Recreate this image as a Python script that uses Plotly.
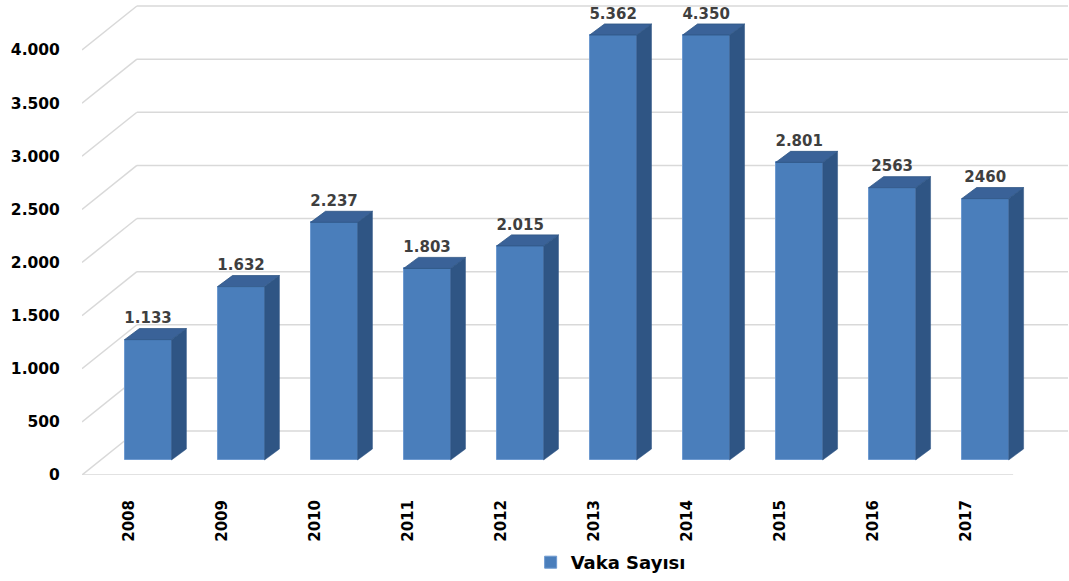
import plotly.graph_objects as go

years = ["2008", "2009", "2010", "2011", "2012", "2013", "2014", "2015", "2016", "2017"]
vaka = [1133, 1632, 2237, 1803, 2015, 5362, 4350, 2801, 2563, 2460]
labels = ["1.133", "1.632", "2.237", "1.803", "2.015", "5.362", "4.350", "2.801", "2563", "2460"]
y_ticks = [0, 500, 1000, 1500, 2000, 2500, 3000, 3500, 4000]
y_ticktext = ["0", "500", "1.000", "1.500", "2.000", "2.500", "3.000", "3.500", "4.000"]

AXIS_MAX = 4000
BASE = 141        # bar base depth offset (value units)
BW = 0.505        # bar width (category units)
DX, DY = 0.16, 104   # bar depth extrusion
WALL_DX, WALL_DY = 0.59, 414  # back wall offset
X0, X1 = -0.71, 9.89

FRONT = "#4A7EBB"
SIDE = "#2F5584"
TOP = "#3A6298"

xs = list(range(len(years)))
shown = [min(v, AXIS_MAX) for v in vaka]

fig = go.Figure()

# front faces
fig.add_trace(go.Bar(x=xs, y=shown, base=[BASE] * len(xs), width=BW,
                     marker=dict(color=FRONT, line=dict(color="#6E9AD0", width=1)),
                     name="Vaka Sayısı", hoverinfo="skip"))

# side and top faces
sx, sy = [], []
tx, ty = [], []
for i, h in zip(xs, shown):
    r = i + BW / 2
    l = i - BW / 2
    top = BASE + h
    sx += [r, r + DX, r + DX, r, r, None]
    sy += [BASE, BASE + DY, top + DY, top, BASE, None]
    tx += [l, l + DX, r + DX, r, l, None]
    ty += [top, top + DY, top + DY, top, top, None]
fig.add_trace(go.Scatter(x=sx, y=sy, fill="toself", fillcolor=SIDE, mode="lines",
                         line=dict(color=SIDE, width=0.5), showlegend=False, hoverinfo="skip"))
fig.add_trace(go.Scatter(x=tx, y=ty, fill="toself", fillcolor=TOP, mode="lines",
                         line=dict(color="#2F5584", width=0.8), showlegend=False, hoverinfo="skip"))

# data labels
fig.add_trace(go.Scatter(x=xs, y=[BASE + h + DY + 15 for h in shown], mode="text",
                         text=labels, textposition="top center",
                         textfont=dict(family="DejaVu Sans", size=15, color="#3F3F3F", weight="bold"),
                         showlegend=False, hoverinfo="skip"))

# 3D style gridlines
shapes = []
for t in y_ticks:
    shapes.append(dict(type="line", xref="x", yref="y", x0=X0, y0=t, x1=X0 + WALL_DX, y1=t + WALL_DY,
                       line=dict(color="#D9D9D9", width=1.5), layer="below"))
    shapes.append(dict(type="line", xref="x", yref="y", x0=X0 + WALL_DX, y0=t + WALL_DY, x1=X1, y1=t + WALL_DY,
                       line=dict(color="#D9D9D9", width=1.5), layer="below"))
shapes.append(dict(type="line", xref="x", yref="y", x0=X0, y0=0, x1=9.30, y1=0,
                   line=dict(color="#D9D9D9", width=1.5), layer="below"))

fig.update_layout(
    width=1069, height=581,
    margin=dict(l=82, r=1, t=0, b=106),
    plot_bgcolor="white", paper_bgcolor="white",
    shapes=shapes,
    showlegend=True,
    legend=dict(orientation="h", x=0.455, xanchor="left", y=-0.185, yanchor="middle",
                itemwidth=30,
                font=dict(family="DejaVu Sans", size=18, color="#000000", weight="bold")),
    xaxis=dict(range=[X0, X1], tickvals=[i - 0.2 for i in xs], ticktext=years,
               tickangle=-90, showgrid=False, zeroline=False, showline=False,
               ticks="outside", ticklen=18, tickcolor="rgba(0,0,0,0)",
               tickfont=dict(family="DejaVu Sans", size=15, color="#000000", weight="bold")),
    yaxis=dict(range=[0, 4470.6], tickvals=y_ticks, ticktext=y_ticktext,
               showgrid=False, zeroline=False, showline=False,
               ticks="outside", ticklen=18, tickcolor="rgba(0,0,0,0)",
               tickfont=dict(family="DejaVu Sans", size=15.5, color="#000000", weight="bold")),
    bargap=0,
)

fig.write_html("out.html")
